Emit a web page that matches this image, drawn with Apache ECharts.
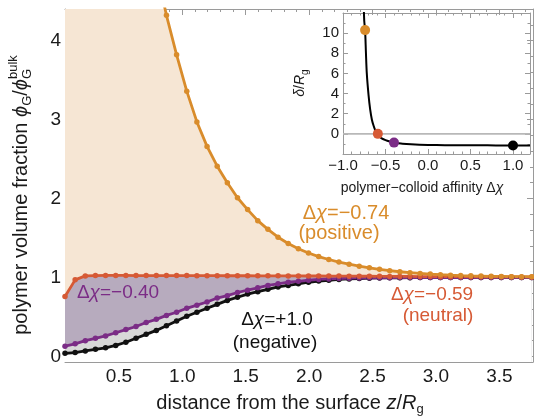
<!DOCTYPE html>
<html><head><meta charset="utf-8">
<script src="https://cdn.jsdelivr.net/npm/echarts@6/dist/echarts.min.js"></script>
<style>html,body{margin:0;padding:0;background:#fff}#c{width:534px;height:417px}</style>
</head><body><div id="c"></div>
<script>
// ---------- data ----------
const zGrid = [0.075,0.155,0.235,0.315,0.395,0.475,0.555,0.635,0.715,0.795,0.875,0.955,1.035,1.115,1.195,1.275,1.355,1.435,1.515,1.595,1.675,1.755,1.835,1.915,1.995,2.075,2.155,2.235,2.315,2.395,2.475,2.555,2.635,2.715,2.795,2.875,2.955,3.035,3.115,3.195,3.275,3.355,3.435,3.515,3.595,3.675,3.755];
const phiPositive = [14.0,12.6,11.2,10.0,8.9,7.9,7.0,6.2,5.5,4.9,4.32,3.82,3.36,2.97,2.66,2.41,2.20,2.01,1.86,1.72,1.61,1.51,1.43,1.365,1.31,1.265,1.228,1.196,1.168,1.144,1.122,1.103,1.087,1.073,1.061,1.051,1.043,1.036,1.030,1.025,1.021,1.018,1.015,1.013,1.011,1.010,1.009];
const phiNeutral = [0.76,0.97,1.02,1.025,1.026,1.026,1.026,1.025,1.025,1.025,1.024,1.024,1.024,1.023,1.023,1.023,1.022,1.022,1.022,1.021,1.021,1.021,1.020,1.020,1.019,1.019,1.018,1.018,1.017,1.016,1.016,1.015,1.014,1.014,1.013,1.012,1.012,1.011,1.011,1.010,1.010,1.009,1.009,1.008,1.008,1.007,1.007];
const phiMid = [0.13,0.16,0.20,0.23,0.26,0.30,0.34,0.38,0.43,0.47,0.52,0.56,0.61,0.65,0.69,0.74,0.77,0.81,0.84,0.87,0.90,0.92,0.94,0.952,0.965,0.975,0.982,0.987,0.991,0.994,0.996,0.997,0.998,0.999,0.999,1.0,1.0,1.0,1.0,1.0,1.0,1.0,1.0,1.0,1.0,1.0,1.0];
const phiNegative = [0.04,0.05,0.07,0.09,0.11,0.14,0.18,0.23,0.28,0.33,0.39,0.45,0.51,0.56,0.61,0.66,0.71,0.75,0.79,0.82,0.85,0.88,0.90,0.92,0.94,0.955,0.965,0.975,0.982,0.987,0.991,0.994,0.996,0.997,0.998,0.999,0.999,1.0,1.0,1.0,1.0,1.0,1.0,1.0,1.0,1.0,1.0];

const affinity = [-0.757,-0.75,-0.74,-0.73,-0.72,-0.70,-0.68,-0.66,-0.64,-0.62,-0.60,-0.58,-0.55,-0.50,-0.45,-0.40,-0.35,-0.30,-0.20,-0.10,0.0,0.2,0.4,0.6,0.8,1.0,1.2];
const deltaRg = [13.0,11.2,10.3,8.0,6.0,3.9,2.4,1.4,0.8,0.35,0.05,-0.18,-0.42,-0.62,-0.76,-0.87,-0.93,-0.98,-1.04,-1.08,-1.10,-1.12,-1.13,-1.14,-1.145,-1.15,-1.16];
const dotChi = [-0.74,-0.59,-0.40,1.0];
const dotDelta = [10.3,0.0,-0.87,-1.15];

const xTickVals = [0.5,1.0,1.5,2.0,2.5,3.0,3.5];
const yTickVals = [0,1,2,3,4];
const insetXTickVals = [-1.0,-0.5,0.0,0.5,1.0];
const insetYTickVals = [0,2,4,6,8,10];

const labels = [
  {name:'Δχ=−0.74', sub:'(positive)', color:'#D98C2B'},
  {name:'Δχ=−0.59', sub:'(neutral)', color:'#D65A35'},
  {name:'Δχ=−0.40', sub:'', color:'#7B2C86'},
  {name:'Δχ=+1.0', sub:'(negative)', color:'#111111'}
];

// ---------- styles ----------
const FONT = '"Liberation Sans", Arial, sans-serif';
const FRAME = '#9a9a9a';
const C_OR = '#D98C2B', C_RED = '#D65A35', C_PUR = '#7B2C86', C_BLK = '#111111';

function pairs(xs, ys){ return xs.map((x,i)=>[x, ys[i]]); }
function range(a,b,s){ const r=[]; for(let v=a; v<=b+1e-9; v+=s) r.push(Math.round(v*1000)/1000); return r; }
function minus(s){ return s.replace('-', '−'); }

const cvs = document.createElement('canvas').getContext('2d');
function measure(t, font){ cvs.font = font; return cvs.measureText(t).width; }
function mathText(segs, cx, cy, rot, color){
  let total = 0;
  const items = segs.map(s=>{
    const size = s.size, font = (s.it?'italic ':'') + size + 'px ' + FONT;
    const w = measure(s.t, font);
    const it = {s, font, w, x: total};
    if (!s.noadv) total += w;
    return it;
  });
  const children = items.map(it=>({
    type:'text', x: it.x - total/2, y: it.s.dy || 0, z: 100, zlevel: 0,
    style:{text: it.s.t, font: it.font, fill: color, textAlign:'left', align:'left', verticalAlign:'middle', textVerticalAlign:'middle'}
  }));
  return {type:'group', x: cx, y: cy, rotation: rot || 0, children, z: 100};
}
function chiLabel(txt, size){
  return [{t:'Δ', size},{t:'χ', size, it:true},{t:txt.slice(2), size}];
}

function axisPair(kind, grid, min, max, majors, minors, labelVals, fmt, fs, margin, majLen, minLen){
  const sides = kind==='x' ? ['bottom','top'] : ['left','right'];
  const out = [];
  sides.forEach((p,pi)=>{
    out.push({type:'value', gridIndex:grid, position:p, min, max,
      axisLine:{show:true, onZero:false, lineStyle:{color:FRAME, width:1}},
      axisTick:{show:true, inside:true, length:majLen, customValues:majors, lineStyle:{color:FRAME, width:1}},
      axisLabel:{show: pi===0, customValues: labelVals, formatter: fmt, fontSize: fs, fontFamily: FONT, color:'#1a1a1a', margin},
      splitLine:{show:false}, minorTick:{show:false}});
    out.push({type:'value', gridIndex:grid, position:p, min, max,
      axisLine:{show:false, onZero:false},
      axisTick:{show:true, inside:true, length:minLen, customValues:minors, lineStyle:{color:FRAME, width:1}},
      axisLabel:{show:false}, splitLine:{show:false}});
  });
  return out;
}

const mainXMin = 0.075, mainXMax = 3.765, mainYMin = -0.07, mainYMax = 4.4;
const xAxes = [].concat(
  axisPair('x', 0, mainXMin, mainXMax, xTickVals, range(0.1,3.7,0.1), xTickVals, v=>v.toFixed(1), 19, 5, 6, 3),
  axisPair('x', 1, -1.0, 1.2, insetXTickVals, range(-1.0,1.2,0.1), insetXTickVals, v=>minus(v.toFixed(1)), 15, 4, 5, 2.5)
);
const yAxes = [].concat(
  axisPair('y', 0, mainYMin, mainYMax, yTickVals, range(0,4.4,0.2), yTickVals, v=>String(v), 19, 4, 6, 3),
  axisPair('y', 1, -2, 12, insetYTickVals, range(-2,12,1), insetYTickVals, v=>String(v), 15, 4, 5, 2.5)
);

function areaSeries(data, color){
  return {type:'line', xAxisIndex:0, yAxisIndex:0, data, symbol:'none', silent:true, z:1,
    lineStyle:{width:0, opacity:0}, areaStyle:{color, opacity:1, origin:'start'}, clip:true, animation:false};
}
function lineSeries(data, color){
  return {type:'line', xAxisIndex:0, yAxisIndex:0, data, symbol:'circle', symbolSize:5.5, showSymbol:true, showAllSymbol:true, z:3,
    lineStyle:{width:2.8, color}, itemStyle:{color, opacity:1}, clip:true, animation:false};
}

const series = [
  areaSeries(pairs(zGrid, phiPositive), '#F6E6D4'),
  areaSeries(pairs(zGrid, phiNeutral), '#B7ABBE'),
  areaSeries(pairs(zGrid, phiMid), '#D8D8D8'),
  areaSeries(pairs(zGrid, phiNegative), '#FFFFFF'),
  lineSeries(pairs(zGrid, phiNegative), C_BLK),
  lineSeries(pairs(zGrid, phiMid), C_PUR),
  lineSeries(pairs(zGrid, phiNeutral), C_RED),
  lineSeries(pairs(zGrid, phiPositive), C_OR),
  // inset
  {type:'line', xAxisIndex:4, yAxisIndex:4, data:[[-1.0,0],[1.2,0]], symbol:'none', lineStyle:{color:'#b8b8b8', width:1.6}, animation:false, silent:true},
  {type:'line', xAxisIndex:4, yAxisIndex:4, data:pairs(affinity, deltaRg), symbol:'none', smooth:0.3, lineStyle:{color:'#000', width:2}, clip:true, animation:false},
  {type:'scatter', xAxisIndex:4, yAxisIndex:4, symbolSize:10, animation:false, z:5,
    data: dotChi.map((x,i)=>({value:[x, dotDelta[i]], itemStyle:{color:[C_OR, C_RED, C_PUR, '#000'][i], opacity:1}}))}
];

const S = 19;
const graphics = [
  mathText([
    {t:'polymer volume fraction ', size:20},
    {t:'ϕ', size:20, it:true},
    {t:'G', size:13, dy:6},
    {t:'/', size:20},
    {t:'ϕ', size:20, it:true},
    {t:'G', size:13, dy:6, noadv:true},
    {t:'bulk', size:13, dy:-8}
  ], 21, 195, Math.PI/2, '#1a1a1a'),
  mathText([
    {t:'distance from the surface ', size:20},
    {t:'z', size:20, it:true},
    {t:'/', size:20},
    {t:'R', size:20, it:true},
    {t:'g', size:13, dy:6}
  ], 290, 403, 0, '#1a1a1a'),
  mathText([
    {t:'polymer−colloid affinity Δ', size:14},
    {t:'χ', size:14, it:true}
  ], 422, 188, 0, '#1a1a1a'),
  mathText([
    {t:'δ', size:14, it:true},
    {t:'/', size:14},
    {t:'R', size:14, it:true},
    {t:'g', size:10, dy:5}
  ], 300, 83, Math.PI/2, '#1a1a1a'),
  mathText(chiLabel(labels[0].name, 20), 346, 213, 0, labels[0].color),
  mathText([{t:labels[0].sub, size:20}], 339, 233, 0, labels[0].color),
  mathText(chiLabel(labels[1].name, S), 432, 295, 0, labels[1].color),
  mathText([{t:labels[1].sub, size:S}], 438, 316, 0, labels[1].color),
  mathText(chiLabel(labels[2].name, S), 118, 293, 0, labels[2].color),
  mathText(chiLabel(labels[3].name, S), 277, 320, 0, labels[3].color),
  mathText([{t:labels[3].sub, size:S}], 275, 343, 0, labels[3].color)
];

const chart = echarts.init(document.getElementById('c'), null, {renderer:'canvas'});
chart.setOption({
  animation:false,
  backgroundColor:'#ffffff',
  grid:[
    {left:65, top:9, width:468, height:353, containLabel:false},
    {left:343, top:13, width:187, height:141, containLabel:false, show:true, backgroundColor:'#ffffff', borderWidth:0}
  ],
  xAxis: xAxes,
  yAxis: yAxes,
  series,
  graphic: graphics
});
</script></body></html>
